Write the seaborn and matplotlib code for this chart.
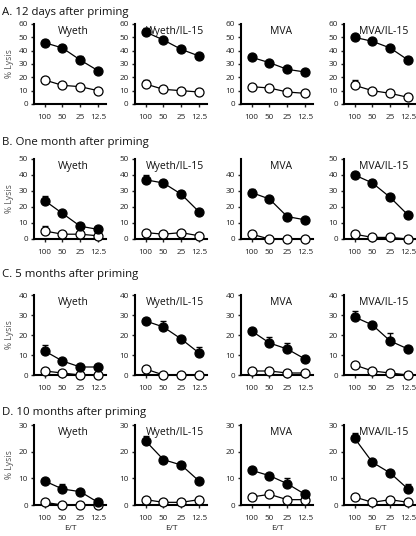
import numpy as np
import pandas as pd
import matplotlib
matplotlib.use("Agg")
import matplotlib.pyplot as plt
import seaborn as sns

sns.set_style("ticks")
plt.rcParams['font.family'] = ['Open Sans', 'DejaVu Sans']

et_labels = ["100", "50", "25", "12.5"]
groups = ["Wyeth", "Wyeth/IL-15", "MVA", "MVA/IL-15"]
row_titles = ["A. 12 days after priming", "B. One month after priming",
              "C. 5 months after priming", "D. 10 months after priming"]
row_ymax = [60, 50, 40, 30]

# filled (immunized) series, per row, per group
filled_A = [[46, 42, 33, 25], [54, 48, 41, 36], [35, 31, 26, 24], [50, 47, 42, 33]]
filled_A_err = [[2, 2, 3, 0], [3, 1, 2, 1], [0, 0, 0, 0], [1, 0, 1, 2]]
open_A = [[18, 14, 13, 10], [15, 11, 10, 9], [13, 12, 9, 8], [14, 10, 8, 5]]
open_A_err = [[0, 0, 0, 0], [3, 0, 0, 0], [0, 0, 0, 0], [4, 0, 0, 0]]

filled_B = [[24, 16, 8, 6], [37, 35, 28, 17], [29, 25, 14, 12], [40, 35, 26, 15]]
filled_B_err = [[3, 0, 1, 1], [3, 2, 2, 0], [2, 0, 2, 0], [2, 2, 1, 1]]
open_B = [[5, 3, 3, 2], [4, 3, 4, 2], [3, 0, 0, 0], [3, 1, 1, 0]]
open_B_err = [[3, 0, 0, 0], [0, 0, 0, 0], [0, 0, 0, 0], [0, 0, 0, 0]]

filled_C = [[12, 7, 4, 4], [27, 24, 18, 11], [22, 16, 13, 8], [29, 25, 17, 13]]
filled_C_err = [[3, 0, 0, 0], [0, 3, 0, 3], [0, 3, 3, 0], [3, 0, 4, 0]]
open_C = [[2, 1, 0, 0], [3, 0, 0, 0], [2, 2, 1, 1], [5, 2, 1, 0]]
open_C_err = [[0, 0, 0, 0], [0, 0, 0, 0], [0, 0, 0, 0], [0, 0, 0, 0]]

filled_D = [[9, 6, 5, 1], [24, 17, 15, 9], [13, 11, 8, 4], [25, 16, 12, 6]]
filled_D_err = [[0, 2, 0, 0], [2, 0, 0, 0], [0, 0, 2, 0], [2, 0, 0, 2]]
open_D = [[1, 0, 0, 0], [2, 1, 1, 2], [3, 4, 2, 2], [3, 1, 2, 1]]
open_D_err = [[0, 0, 0, 0], [0, 0, 0, 0], [0, 0, 0, 0], [0, 0, 0, 0]]

filled = [filled_A, filled_B, filled_C, filled_D]
filled_err = [filled_A_err, filled_B_err, filled_C_err, filled_D_err]
opened = [open_A, open_B, open_C, open_D]
opened_err = [open_A_err, open_B_err, open_C_err, open_D_err]

W, H = 416, 536
fig = plt.figure(figsize=(W / 100, H / 100), dpi=100)

col_left = [34, 135, 241, 344]
ax_w = 72
row_top = [24, 159, 295, 425]
ax_h = 80
title_y = [13, 142, 275, 412]

pos = np.arange(4)

for r in range(4):
    fig.text(2 / W, 1 - title_y[r] / H, row_titles[r], fontsize=8.2,
             va='center', ha='left', color='#111111')
    for c in range(4):
        ax = fig.add_axes([col_left[c] / W, 1 - (row_top[r] + ax_h) / H,
                           ax_w / W, ax_h / H])
        for vals, errs, face, z in [(opened[r][c], opened_err[r][c], 'white', 3),
                                    (filled[r][c], filled_err[r][c], 'black', 4)]:
            df = pd.DataFrame({"pos": pos, "lysis": vals})
            ax.errorbar(df["pos"], df["lysis"],
                        yerr=[np.zeros(4), np.array(errs)],
                        fmt='none', ecolor='black', elinewidth=1.0,
                        capsize=2.5, capthick=1.0, zorder=z - 0.5)
            sns.lineplot(data=df, x="pos", y="lysis", ax=ax, color='black',
                         linewidth=0.9, marker='o', markersize=6.5,
                         markerfacecolor=face, markeredgecolor='black',
                         markeredgewidth=0.9, zorder=z, clip_on=False)
        ax.set_xlim(-0.6, 3.45)
        ax.set_ylim(0, row_ymax[r])
        ticks = list(range(0, row_ymax[r] + 1, 10))
        if r == 1 and c == 2:
            ticks = ticks[:-1]
        ax.set_yticks(ticks)
        ax.set_xticks(pos)
        ax.set_xticklabels(et_labels)
        ax.tick_params(axis='both', labelsize=5.9, length=2.5, width=1.0,
                       pad=2, colors='#222222')
        ax.tick_params(axis='x', pad=5)
        for s in ['left', 'bottom']:
            ax.spines[s].set_linewidth(1.5)
            ax.spines[s].set_color('black')
        sns.despine(ax=ax)
        ax.set_xlabel("E/T" if r == 3 else "", fontsize=6.0, labelpad=2,
                      color='#222222')
        ax.set_ylabel("% Lysis" if c == 0 else "", fontsize=6.2, labelpad=3,
                      color='#555555')
        ax.text(0.55, 0.97, groups[c], transform=ax.transAxes, ha='center',
                va='top', fontsize=7.5, color='#111111')

fig.savefig("out.png", dpi=100)
